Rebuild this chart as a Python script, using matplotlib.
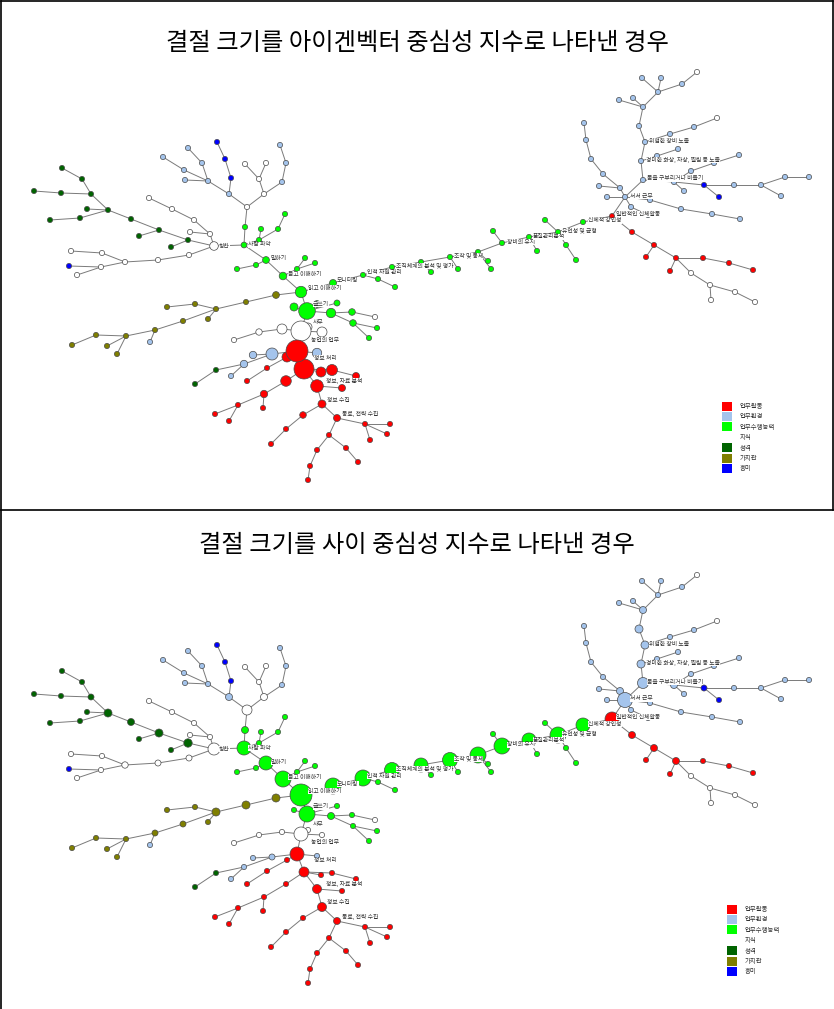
import matplotlib
matplotlib.use("Agg")
import matplotlib.pyplot as plt
from matplotlib.patches import Circle, Rectangle

plt.rcParams['font.family'] = ['Noto Sans CJK KR', 'DejaVu Sans']

titles = ["결절 크기를 아이겐벡터 중심성 지수로 나타낸 경우",
          "결절 크기를 사이 중심성 지수로 나타낸 경우"]

legend_names = ["업무활동", "업무환경", "업무수행능력", "지식", "성격", "가치관", "흥미"]
legend_keys = ["R", "L", "G", "W", "D", "O", "B"]
group_colors = {"R": "#FF0000", "L": "#A4C4EC", "G": "#00FF00", "W": "#FFFFFF",
                "D": "#006400", "O": "#7F7F00", "B": "#0000FF"}

# node layout (pixel position inside a panel)
node_xy = {
    'c0': (214, 246), 'c1': (210, 234), 'c2': (190, 232), 'c3': (194, 220), 'c4': (172, 209), 'c5': (149, 198),
    'd1': (188, 240), 'd2': (171, 247), 'd3': (159, 230), 'd4': (139, 236), 'd5': (131, 219), 'd6': (108, 210),
    'd7': (87, 209), 'd8': (80, 218), 'd9': (50, 220), 'd10': (91, 194), 'd11': (61, 193), 'd12': (34, 191),
    'd13': (82, 179), 'd14': (62, 168),
    'w1': (189, 255), 'w2': (158, 260), 'w3': (125, 262), 'w4': (102, 253), 'w5': (71, 251), 'w6': (101, 267),
    'w7': (69, 266), 'w8': (77, 275),
    'g1': (244, 245), 'g2': (245, 227), 't0': (247, 207), 'l1': (229, 194), 'b1': (231, 178), 'b2': (225, 159),
    'b3': (217, 142), 'l2': (208, 181), 'l3': (185, 180), 'l4': (184, 170), 'l5': (163, 157), 'l6': (202, 163),
    'l7': (188, 148), 't1': (264, 194), 't2': (259, 179), 't3': (245, 164), 't4': (266, 163), 'l8': (282, 182),
    'l9': (286, 163), 'l10': (280, 145),
    'g3': (259, 240), 'g4': (261, 229), 'g5': (278, 229), 'g6': (285, 214),
    'g7': (266, 260), 'g8': (256, 265), 'g9': (237, 269), 'g10': (283, 276), 'g11': (297, 269), 'g12': (305, 258),
    'g13': (315, 263), 'g14': (301, 292),
    'o1': (276, 295), 'o2': (246, 302), 'o3': (216, 309), 'o4': (195, 304), 'o5': (167, 307), 'o6': (208, 319),
    'o7': (183, 321), 'o8': (155, 330), 'ol': (150, 342), 'o9': (126, 336), 'o10': (96, 335), 'o11': (72, 345),
    'o12': (107, 346), 'o13': (117, 354),
    'g20': (333, 283), 'g21': (363, 275), 'g22': (392, 267), 'g23': (421, 262), 'g24': (450, 257), 'g25': (478, 252),
    'g26': (502, 243), 'g27': (529, 237), 'g28': (558, 232), 'g29': (583, 222), 'g30': (378, 279), 'g31': (395, 287),
    'g32': (431, 272), 'g33': (458, 269), 'g34': (488, 261), 'g35': (491, 269), 'g36': (493, 231), 'g37': (537, 251),
    'g38': (545, 220), 'g39': (566, 245), 'g40': (576, 260),
    'g41': (307, 311), 'g42': (317, 304), 'g43': (294, 307), 'g44': (337, 303), 'g45': (331, 313), 'g46': (352, 312),
    'g47': (375, 317), 'g48': (353, 323), 'g49': (377, 328), 'g50': (369, 338),
    's0': (301, 331), 's1': (308, 327), 's2': (322, 332), 's3': (282, 329), 's4': (259, 332), 's5': (234, 340),
    'r0': (297, 351), 'r1': (304, 369), 'r2': (287, 357), 'r3': (267, 368), 'r4': (247, 381), 'r5': (321, 372),
    'r6': (332, 370), 'r7': (356, 376), 'r8': (317, 386), 'r9': (342, 388), 'r10': (286, 381), 'r11': (264, 394),
    'r12': (263, 408), 'r13': (238, 405), 'r14': (215, 414), 'r15': (229, 421), 'r16': (322, 404), 'r17': (303, 415),
    'r18': (286, 429), 'r19': (271, 444), 'r20': (337, 418), 'r21': (365, 424), 'r22': (390, 424), 'r23': (387, 434),
    'r24': (370, 440), 'r25': (329, 435), 'r26': (317, 450), 'r27': (310, 466), 'r28': (308, 480), 'r29': (346, 448),
    'r30': (358, 462),
    'e1': (272, 354), 'e2': (253, 355), 'e3': (244, 364), 'e4': (231, 376), 'e5': (216, 370), 'e6': (195, 384),
    'e7': (317, 353),
    'x0': (625, 197), 'x1': (612, 216), 'x2': (643, 180), 'x3': (641, 161), 'x4': (645, 142), 'x5': (639, 126),
    'x6': (643, 107), 'x7': (658, 92), 'x8': (642, 78), 'x9': (661, 78), 'x10': (682, 84), 'x11': (697, 72),
    'x12': (633, 98), 'x13': (619, 100), 'x14': (657, 156), 'x15': (678, 149), 'x16': (670, 134), 'x17': (694, 127),
    'x18': (717, 118), 'x19': (674, 182), 'x20': (684, 191), 'x21': (704, 185), 'x22': (719, 197), 'x23': (734, 185),
    'x24': (761, 185), 'x25': (785, 177), 'x26': (809, 177), 'x27': (781, 196), 'x28': (691, 171), 'x29': (714, 163),
    'x30': (739, 155), 'x31': (650, 200), 'x32': (681, 209), 'x33': (712, 214), 'x34': (740, 219), 'x35': (631, 207),
    'x36': (648, 215), 'x37': (620, 188), 'x38': (599, 186), 'x39': (603, 174), 'x40': (591, 159), 'x41': (586, 140),
    'x42': (584, 123), 'x43': (607, 197),
    'y1': (632, 232), 'y2': (654, 245), 'y3': (646, 257), 'y4': (676, 258), 'y5': (670, 271), 'y6': (703, 258),
    'y7': (729, 263), 'y8': (753, 270), 'y9': (691, 273), 'y10': (710, 285), 'y11': (711, 300), 'y12': (735, 292),
    'y13': (755, 302),
}

white_ids = ['c0', 'c1', 'c2', 'c3', 'c4', 'c5', 'w1', 'w2', 'w3', 'w4', 'w5', 'w6', 'w8', 't0', 't1', 't2', 't3',
             't4', 'g47', 's0', 's1', 's2', 's3', 's4', 's5', 'x11', 'x18', 'y9', 'y10', 'y11', 'y12', 'y13']
dark_ids = ['d1', 'd2', 'd3', 'd4', 'd5', 'd6', 'd7', 'd8', 'd9', 'd10', 'd11', 'd12', 'd13', 'd14', 'e5', 'e6']
blue_ids = ['w7', 'b1', 'b2', 'b3', 'x21', 'x22']
olive_ids = ['o1', 'o2', 'o3', 'o4', 'o5', 'o6', 'o7', 'o8', 'o9', 'o10', 'o11', 'o12', 'o13']
red_ids = ['r%d' % i for i in range(31)] + ['x1'] + ['y%d' % i for i in range(1, 9)]
light_ids = ['l%d' % i for i in range(1, 11)] + ['ol', 'e1', 'e2', 'e3', 'e4', 'e7'] + \
            ['x%d' % i for i in range(44) if i not in (1, 11, 18, 21, 22)]

edges = [
    ('c0', 'c1'), ('c1', 'c2'), ('c1', 'c3'), ('c3', 'c4'), ('c4', 'c5'),
    ('c0', 'd1'), ('d1', 'd2'), ('d1', 'd3'), ('d3', 'd4'), ('d3', 'd5'), ('d5', 'd6'), ('d6', 'd7'), ('d6', 'd8'),
    ('d8', 'd9'), ('d6', 'd10'), ('d10', 'd11'), ('d11', 'd12'), ('d10', 'd13'), ('d13', 'd14'),
    ('c0', 'w1'), ('w1', 'w2'), ('w2', 'w3'), ('w3', 'w4'), ('w4', 'w5'), ('w3', 'w6'), ('w6', 'w7'), ('w6', 'w8'),
    ('c0', 'g1'), ('g1', 'g2'), ('g2', 't0'), ('t0', 'l1'), ('l1', 'b1'), ('b1', 'b2'), ('b2', 'b3'),
    ('l1', 'l2'), ('l2', 'l3'), ('l2', 'l4'), ('l4', 'l5'), ('l2', 'l6'), ('l6', 'l7'),
    ('t0', 't1'), ('t1', 't2'), ('t2', 't3'), ('t2', 't4'), ('t1', 'l8'), ('l8', 'l9'), ('l9', 'l10'),
    ('g1', 'g3'), ('g3', 'g4'), ('g3', 'g5'), ('g5', 'g6'),
    ('g1', 'g7'), ('g7', 'g8'), ('g8', 'g9'), ('g7', 'g10'), ('g10', 'g11'), ('g11', 'g12'), ('g11', 'g13'),
    ('g10', 'g14'),
    ('g14', 'o1'), ('o1', 'o2'), ('o2', 'o3'), ('o3', 'o4'), ('o4', 'o5'), ('o3', 'o6'), ('o3', 'o7'), ('o7', 'o8'),
    ('o8', 'ol'), ('o8', 'o9'), ('o9', 'o10'), ('o10', 'o11'), ('o9', 'o12'), ('o9', 'o13'),
    ('g14', 'g20'), ('g20', 'g21'), ('g21', 'g22'), ('g22', 'g23'), ('g23', 'g24'), ('g24', 'g25'), ('g25', 'g26'),
    ('g26', 'g27'), ('g27', 'g28'), ('g28', 'g29'), ('g21', 'g30'), ('g30', 'g31'), ('g23', 'g32'), ('g24', 'g33'),
    ('g25', 'g34'), ('g25', 'g35'), ('g26', 'g36'), ('g27', 'g37'), ('g28', 'g38'), ('g28', 'g39'), ('g39', 'g40'),
    ('g14', 'g41'), ('g41', 'g42'), ('g41', 'g43'), ('g41', 'g44'), ('g41', 'g45'), ('g45', 'g46'), ('g46', 'g47'),
    ('g45', 'g48'), ('g48', 'g49'), ('g48', 'g50'),
    ('g41', 's0'), ('s0', 's1'), ('s0', 's2'), ('s0', 's3'), ('s3', 's4'), ('s4', 's5'),
    ('s0', 'r0'), ('r0', 'r1'), ('r0', 'r2'), ('r2', 'r3'), ('r3', 'r4'), ('r1', 'r5'), ('r1', 'r6'), ('r6', 'r7'),
    ('r1', 'r8'), ('r8', 'r9'), ('r1', 'r10'), ('r10', 'r11'), ('r11', 'r12'), ('r11', 'r13'), ('r13', 'r14'),
    ('r13', 'r15'), ('r8', 'r16'), ('r16', 'r17'), ('r17', 'r18'), ('r18', 'r19'), ('r16', 'r20'), ('r20', 'r21'),
    ('r21', 'r22'), ('r21', 'r23'), ('r21', 'r24'), ('r20', 'r25'), ('r25', 'r26'), ('r26', 'r27'), ('r27', 'r28'),
    ('r25', 'r29'), ('r29', 'r30'),
    ('r0', 'e1'), ('e1', 'e2'), ('e1', 'e3'), ('e3', 'e4'), ('e3', 'e5'), ('e5', 'e6'), ('r0', 'e7'),
    ('g29', 'x1'), ('x1', 'x0'), ('x0', 'x2'), ('x2', 'x3'), ('x3', 'x4'), ('x4', 'x5'), ('x5', 'x6'), ('x6', 'x7'),
    ('x7', 'x8'), ('x7', 'x9'), ('x7', 'x10'), ('x10', 'x11'), ('x6', 'x12'), ('x6', 'x13'), ('x3', 'x14'),
    ('x14', 'x15'), ('x4', 'x16'), ('x16', 'x17'), ('x17', 'x18'), ('x2', 'x19'), ('x19', 'x20'), ('x19', 'x21'),
    ('x21', 'x22'), ('x21', 'x23'), ('x23', 'x24'), ('x24', 'x25'), ('x25', 'x26'), ('x24', 'x27'), ('x19', 'x28'),
    ('x28', 'x29'), ('x29', 'x30'), ('x0', 'x31'), ('x31', 'x32'), ('x32', 'x33'), ('x33', 'x34'), ('x0', 'x35'),
    ('x35', 'x36'), ('x0', 'x37'), ('x37', 'x38'), ('x37', 'x39'), ('x39', 'x40'), ('x40', 'x41'), ('x41', 'x42'),
    ('x0', 'x43'),
    ('x1', 'y1'), ('y1', 'y2'), ('y2', 'y3'), ('y2', 'y4'), ('y4', 'y5'), ('y4', 'y6'), ('y6', 'y7'), ('y7', 'y8'),
    ('y4', 'y9'), ('y9', 'y10'), ('y10', 'y11'), ('y10', 'y12'), ('y12', 'y13'),
]

# node labels: text and its left/centre point inside a panel
labels = {
    'c0': ("칭찬", 219, 246), 'g1': ("사람 파악", 248, 245), 'g7': ("말하기", 271, 259),
    'g10': ("듣고 이해하기", 288, 274), 'g14': ("읽고 이해하기", 308, 288), 'g20': ("모니터링", 337, 281),
    'g21': ("인적 자원 관리", 367, 273), 'g22': ("조직체계의 분석 및 평가", 396, 266),
    'g24': ("조작 및 통제", 454, 256), 'g26': ("장비의 유지", 507, 242), 'g27': ("품질관리분석", 533, 237),
    'g28': ("유연성 및 균형", 562, 231), 'g29': ("신체적 강인성", 588, 221), 'g42': ("글쓰기", 313, 304),
    's1': ("사무", 313, 322), 'r0': ("농업의 업무", 311, 340), 'r1': ("정보 처리", 314, 358),
    'r8': ("정보, 자료 분석", 326, 381), 'r16': ("정보 수집", 327, 400), 'r20': ("동료, 전략 수집", 342, 414),
    'x0': ("서서 근무", 630, 196), 'x1': ("일반적인 신체활동", 616, 214), 'x2': ("몸을 구부리거나 비틀기", 647, 179),
    'x3': ("경미한 화상, 자상, 찔림 등 노출", 646, 160), 'x4': ("위험한 장비 노출", 649, 141),
}

default_r = 2.6
# radius (px) with eigenvector centrality (top panel)
eigen_r = {
    'c0': 4.3, 'g1': 2.9, 'g7': 3.4, 'g10': 3.8, 'g14': 5.7, 'o1': 3.4, 'g41': 8.3, 'g42': 3.4, 'g43': 4.0,
    'g44': 3.0, 'g45': 4.7, 'g46': 3.3, 'g48': 3.3, 'g20': 3.5, 's0': 10.0, 's1': 4.0, 's2': 5.0, 's3': 5.0,
    's4': 3.2, 'r0': 11.0, 'r1': 10.0, 'r2': 5.0, 'r5': 5.0, 'r6': 5.5, 'r7': 3.5, 'r8': 6.3, 'r9': 3.5,
    'r10': 5.3, 'r11': 3.7, 'r16': 4.0, 'r17': 3.3, 'r20': 3.5, 'e1': 6.0, 'e2': 3.7, 'e3': 3.7, 'e7': 4.7,
    'x1': 2.5,
}
# radius (px) with betweenness centrality (bottom panel)
between_r = {
    'c0': 6.0, 'd1': 4.2, 'd3': 4.0, 'd5': 3.5, 'd6': 4.0, 'd10': 3.0, 'w1': 3.0, 'w2': 3.0, 'w3': 3.2,
    'g1': 7.0, 'g2': 3.5, 't0': 5.0, 'l1': 3.5, 't1': 3.5, 'g7': 7.0, 'g10': 8.0, 'g14': 11.0,
    'g20': 8.0, 'g21': 8.0, 'g22': 7.5, 'g23': 7.0, 'g24': 7.5, 'g25': 8.0, 'g26': 8.0, 'g27': 7.0,
    'g28': 8.0, 'g29': 7.0, 'x1': 7.0, 'x0': 7.5, 'x2': 5.5, 'x3': 4.0, 'x4': 4.0, 'x5': 4.0, 'x6': 3.5,
    'x19': 3.5, 'x21': 3.0, 'x37': 3.5, 'y1': 3.5, 'y2': 3.5, 'y4': 3.5, 'o1': 4.0, 'o2': 4.0, 'o3': 4.0,
    'o7': 3.0, 'o8': 3.0, 'g41': 8.0, 's0': 7.0, 'r0': 7.0, 'r1': 5.0, 'r8': 4.5, 'r16': 4.5, 'r20': 3.5,
    'g45': 3.5, 'e1': 3.0,
}

node_group = {}
for key, ids in [("W", white_ids), ("D", dark_ids), ("B", blue_ids), ("O", olive_ids),
                 ("R", red_ids), ("L", light_ids)]:
    for n in ids:
        node_group[n] = key

W, H = 834, 1009
fig = plt.figure(figsize=(W / 100, H / 100), dpi=100)
ax = fig.add_axes([0, 0, 1, 1])
ax.set_xlim(0, W)
ax.set_ylim(H, 0)
ax.axis("off")

panel_dy = [0, 503]
title_y = [43, 545]
legend_xy = [(722, 406), (727, 909)]
sizes = [eigen_r, between_r]

for p in range(2):
    dy = panel_dy[p]
    ax.text(417, title_y[p], titles[p], ha="center", va="center", fontsize=17.5, color="black")
    for a, b in edges:
        (x1, y1), (x2, y2) = node_xy[a], node_xy[b]
        ax.plot([x1, x2], [y1 + dy, y2 + dy], color="#7a7a7a", lw=0.7, zorder=1)
    order = sorted(node_xy, key=lambda n: sizes[p].get(n, default_r))
    for n in order:
        x, y = node_xy[n]
        ax.add_patch(Circle((x, y + dy), sizes[p].get(n, default_r),
                            facecolor=group_colors[node_group.get(n, "G")],
                            edgecolor="#4a4a4a", lw=0.5, zorder=2))
    for n, (txt, lx, ly) in labels.items():
        ax.text(lx, ly + dy, txt, fontsize=4.2, color="#333333", ha="left", va="center", zorder=3,
                bbox=dict(facecolor="white", edgecolor="none", pad=0.1))
    lx0, ly0 = legend_xy[p]
    for i, (name, key) in enumerate(zip(legend_names, legend_keys)):
        yy = ly0 + i * 10.4
        if key != "W":
            ax.add_patch(Rectangle((lx0, yy - 4.5), 10, 9, facecolor=group_colors[key], edgecolor="none",
                                   zorder=2))
        ax.text(lx0 + 18, yy, name, fontsize=4.6, color="#333333", ha="left", va="center")

# panel frames
ax.plot([1, 1], [1, H], color="black", lw=1.2)
ax.plot([1, 833], [1, 1], color="black", lw=1.2)
ax.plot([833, 833], [1, 510], color="black", lw=1.2)
ax.plot([1, 833], [510, 510], color="black", lw=1.2)

fig.savefig("out.png", dpi=100)
